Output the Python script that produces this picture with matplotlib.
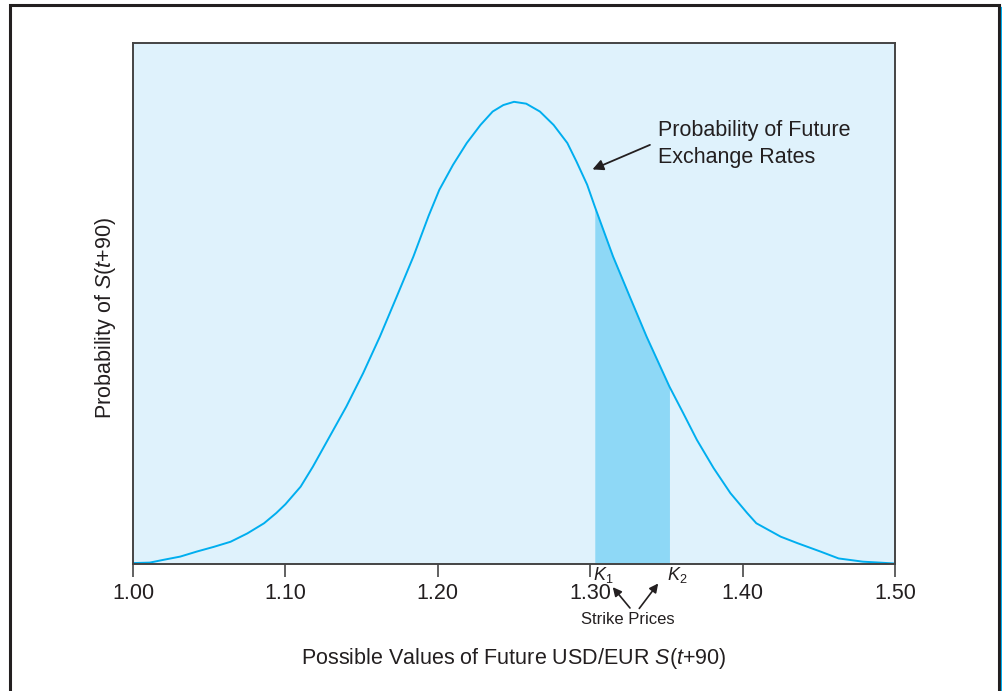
import numpy as np
import matplotlib
matplotlib.use("Agg")
import matplotlib.pyplot as plt
from matplotlib.lines import Line2D

plt.rcParams["font.family"] = ["Liberation Sans", "DejaVu Sans"]
plt.rcParams["mathtext.fontset"] = "custom"
plt.rcParams["mathtext.rm"] = "Liberation Sans"
plt.rcParams["mathtext.it"] = "Liberation Sans:italic"

# curve (relative probability, peak = 1)
rate = [1.000, 1.011, 1.020, 1.031, 1.042, 1.053, 1.064, 1.075, 1.086, 1.094,
        1.100, 1.110, 1.118, 1.129, 1.140, 1.151, 1.162, 1.173, 1.184, 1.194,
        1.201, 1.210, 1.219, 1.228, 1.236, 1.243, 1.250, 1.258, 1.267, 1.276,
        1.285, 1.291, 1.298, 1.303, 1.315, 1.326, 1.337, 1.352, 1.361, 1.370,
        1.381, 1.392, 1.403, 1.409, 1.425, 1.436, 1.451, 1.463, 1.479, 1.490,
        1.500]
prob = [0.002, 0.003, 0.009, 0.016, 0.027, 0.037, 0.048, 0.066, 0.088, 0.110,
        0.129, 0.167, 0.210, 0.275, 0.340, 0.412, 0.491, 0.577, 0.664, 0.752,
        0.808, 0.862, 0.909, 0.948, 0.977, 0.991, 0.998, 0.994, 0.977, 0.948,
        0.909, 0.869, 0.819, 0.772, 0.664, 0.577, 0.491, 0.383, 0.326, 0.268,
        0.207, 0.153, 0.110, 0.088, 0.059, 0.045, 0.027, 0.012, 0.005, 0.003,
        0.001]
k1, k2 = 1.303, 1.352
xticks = [1.00, 1.10, 1.20, 1.30, 1.40, 1.50]
xtick_labels = ["1.00", "1.10", "1.20", "1.30", "1.40", "1.50"]

ink = "#231f20"
cyan = "#00aeef"

fig = plt.figure(figsize=(10.03, 6.91), dpi=100)
ax = fig.add_axes([133 / 1003, 1 - 564 / 691, 762 / 1003, 521 / 691])
ax.set_facecolor("#dff2fc")

x = np.array(rate)
y = np.array(prob)
ax.fill_between(x, y, where=(x >= k1) & (x <= k2), color="#8ed8f6", lw=0)
ax.plot(x, y, color=cyan, lw=1.4, solid_joinstyle="round")

ax.set_xlim(1.0, 1.5)
ax.set_ylim(0, 1.125)
ax.set_xticks(xticks)
ax.set_xticklabels(xtick_labels)
ax.set_yticks([])
ax.tick_params(axis="x", direction="out", length=9, width=1.3, color="#555555",
               labelsize=15.5, labelcolor=ink, pad=5)
for s in ax.spines.values():
    s.set_color("#444444")
    s.set_linewidth(1.4)

ax.set_xlabel("Possible Values of Future USD/EUR $S$($t$+90)", fontsize=15.5,
              color=ink)
ax.xaxis.set_label_coords(0.5, -0.158)
ax.set_ylabel("Probability of $S$($t$+90)", fontsize=15.5, color=ink)
ax.yaxis.set_label_coords(-0.0197, 0.472)

ax.text(1.3445, 0.907, "Probability of Future\nExchange Rates", fontsize=15.5,
        color=ink, ha="left", va="center", linespacing=1.32)
ax.annotate("", xy=(1.3015, 0.852), xytext=(1.3392, 0.905),
            arrowprops=dict(arrowstyle="-|>", color=ink, lw=1.3,
                            mutation_scale=16, shrinkA=0, shrinkB=0))

ax.text(k1 - 0.0012, -0.003, "$K_1$", fontsize=13, color=ink, ha="left",
        va="top")
ax.text(k2 - 0.0016, -0.003, "$K_2$", fontsize=13, color=ink, ha="left",
        va="top")
ax.text(1.3245, -0.119, "Strike Prices", fontsize=12, color=ink,
        ha="center", va="center")
ax.annotate("", xy=(1.3148, -0.050), xytext=(1.3261, -0.095),
            arrowprops=dict(arrowstyle="-|>", color=ink, lw=1.2,
                            mutation_scale=13, shrinkA=0, shrinkB=0),
            annotation_clip=False)
ax.annotate("", xy=(1.3446, -0.042), xytext=(1.3322, -0.096),
            arrowprops=dict(arrowstyle="-|>", color=ink, lw=1.2,
                            mutation_scale=13, shrinkA=0, shrinkB=0),
            annotation_clip=False)

# outer frame
fl, fr, ft = 10 / 1003, 999.3 / 1003, 1 - 5.3 / 691
fig.add_artist(Line2D([fl, fl, fr, fr], [0, ft, ft, 0], color=ink, lw=2.2,
                      transform=fig.transFigure, solid_joinstyle="miter"))
fig.add_artist(Line2D([1001.8 / 1003, 1001.8 / 1003], [0, 1 - 8 / 691],
                      color=cyan, lw=1.6, transform=fig.transFigure))

fig.savefig("out.png", dpi=100)
